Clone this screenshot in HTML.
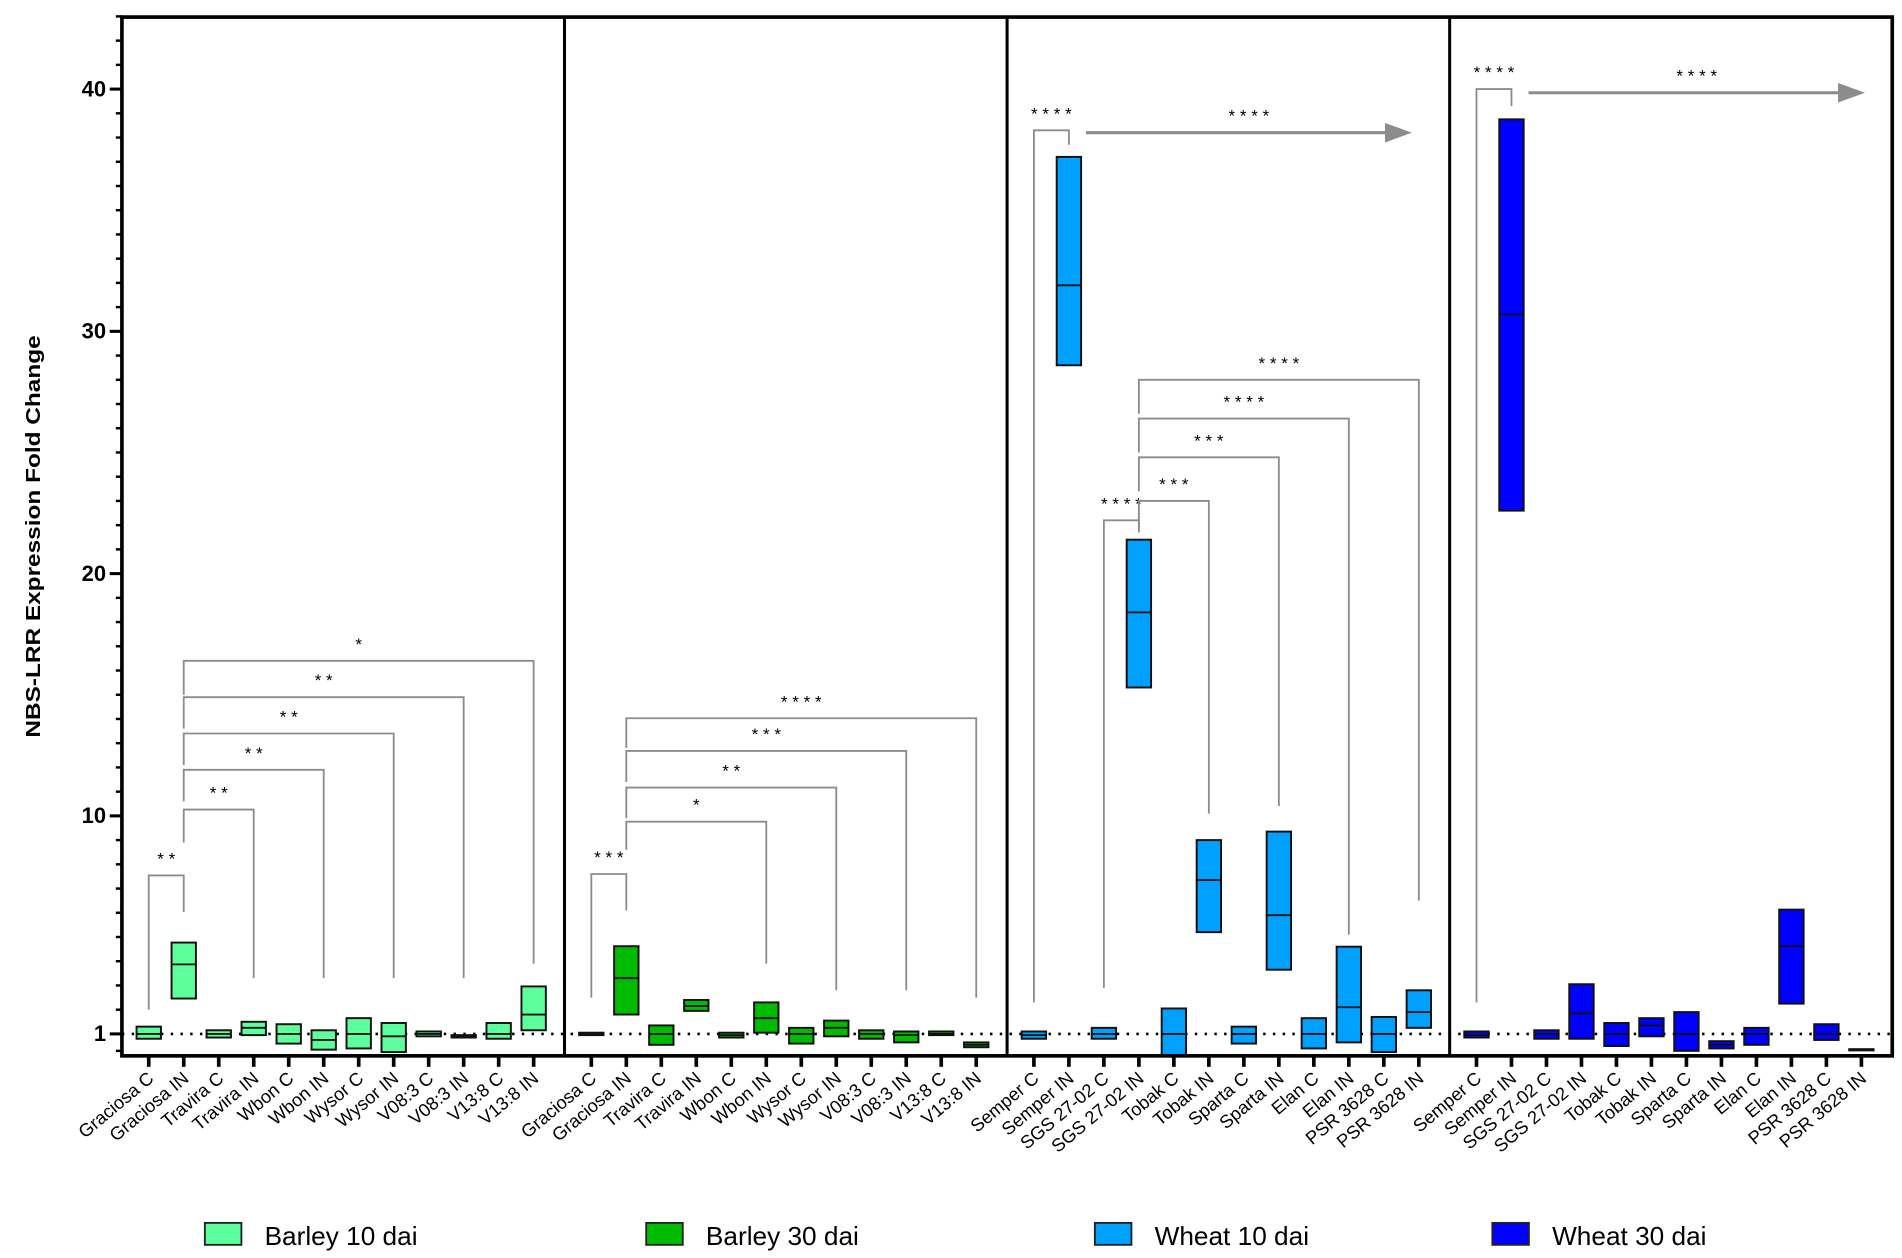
<!DOCTYPE html>
<html><head><meta charset="utf-8"><style>
html,body{margin:0;padding:0;background:#fff;}
svg{display:block;font-family:"Liberation Sans",sans-serif;}
</style></head><body>
<svg id="chart" width="1902" height="1258" viewBox="0 0 1560 1031.8" xmlns="http://www.w3.org/2000/svg"></svg>
<script>
const categories = ["Graciosa C","Graciosa IN","Travira C","Travira IN","Wbon C","Wbon IN","Wysor C","Wysor IN","V08:3 C","V08:3 IN","V13:8 C","V13:8 IN",
"Graciosa C","Graciosa IN","Travira C","Travira IN","Wbon C","Wbon IN","Wysor C","Wysor IN","V08:3 C","V08:3 IN","V13:8 C","V13:8 IN",
"Semper C","Semper IN","SGS 27-02 C","SGS 27-02 IN","Tobak C","Tobak IN","Sparta C","Sparta IN","Elan C","Elan IN","PSR 3628 C","PSR 3628 IN",
"Semper C","Semper IN","SGS 27-02 C","SGS 27-02 IN","Tobak C","Tobak IN","Sparta C","Sparta IN","Elan C","Elan IN","PSR 3628 C","PSR 3628 IN"];
const seriesNames = ["Barley 10 dai","Barley 30 dai","Wheat 10 dai","Wheat 30 dai"];
const seriesColors = ["#5cff9c","#00bb00","#00a0ff","#0000ff"];
const minVals = [0.8,2.46,0.85,0.95,0.6,0.35,0.4,0.25,0.9,0.85,0.8,1.15,
0.95,1.8,0.55,1.95,0.85,1.05,0.6,0.9,0.8,0.65,0.95,0.45,
0.8,28.6,0.8,15.3,0.1,5.2,0.6,3.65,0.4,0.65,0.25,1.25,
0.85,22.6,0.8,0.8,0.5,0.9,0.3,0.4,0.55,2.25,0.75,0.33];
const maxVals = [1.3,4.77,1.15,1.5,1.4,1.15,1.65,1.45,1.1,0.95,1.45,2.96,
1.05,4.62,1.35,2.4,1.05,2.3,1.25,1.55,1.15,1.1,1.1,0.65,
1.1,37.2,1.25,21.4,2.05,9.0,1.3,9.35,1.65,4.6,1.7,2.8,
1.1,38.75,1.15,3.05,1.45,1.65,1.9,0.7,1.25,6.13,1.4,0.37];
const medVals = [1.0,3.87,1.0,1.25,1.0,0.75,1.0,0.9,1.0,0.9,1.0,1.8,
1.0,3.3,1.0,2.15,0.95,1.65,1.0,1.25,1.0,0.95,1.0,0.55,
0.95,31.9,1.0,18.4,1.0,7.35,1.0,5.9,1.0,2.1,1.0,1.9,
0.95,30.7,1.0,1.85,1.0,1.35,1.0,0.55,1.0,4.62,1.0,0.35];
const yTicks = [1,10,20,30,40];
const brFrom = [0,1,1,1,1,1, 12,13,13,13,13, 24,26,27,27,27,27, 36];
const brTo   = [1,3,5,7,9,11, 13,17,19,21,23, 25,27,29,31,33,35, 37];
const brTop  = [7.54,10.26,11.9,13.4,14.9,16.4, 7.6,9.76,11.17,12.68,14.03, 38.3,22.2,23.0,24.8,26.4,28.0, 40.0];
const brLeft = [2.0,8.9,10.6,12.1,13.6,15.0, 2.5,8.6,9.9,11.4,12.8, 2.3,2.9,21.7,23.4,25.0,26.6, 2.3];
const brRight= [6.03,3.3,3.3,3.3,3.3,3.9, 6.1,3.9,2.8,2.8,2.5, 37.7,21.8,10.1,10.4,5.1,6.5, 39.3];
const brLabel= ["* *","* *","* *","* *","* *","*", "* * *","*","* *","* * *","* * * *", "* * * *","* * * *","* * *","* * *","* * * *","* * * *", "* * * *"];
const arrowFrom=[25,37], arrowTo=[34.8,47.1], arrowVal=[38.2,39.85];

const NS="http://www.w3.org/2000/svg";
const svg=document.getElementById('chart');
function el(t,a,p){const e=document.createElementNS(NS,t);for(const k in a)e.setAttribute(k,a[k]);(p||svg).appendChild(e);return e;}
const y=v=>848-(v-1)*19.87;
const x=i=>122+28.7*(i%12)+363*Math.floor(i/12);
const xf=f=>{const p=Math.floor(f/12);return 122+28.7*(f-12*p)+363*p;};
const L=100,T=14,R=1552,B=866;

const gBr=el('g',{});


for(let k=0;k<brFrom.length;k++){
  const x1=x(brFrom[k]),x2=x(brTo[k]),yt=y(brTop[k]);
  const p=el('path',{d:`M${x1} ${y(brLeft[k])}V${yt}H${x2}V${y(brRight[k])}`,fill:'none',stroke:'#8c8c8c','stroke-width':1.5},gBr);
  
  
  const t=el('text',{x:(x1+x2)/2,y:yt-9,'text-anchor':'middle','font-size':14,fill:'#000'},gBr);
  t.textContent=brLabel[k];
  
  
}
for(let k=0;k<arrowFrom.length;k++){
  const x1=xf(arrowFrom[k])+14,x2=xf(arrowTo[k]),yy=y(arrowVal[k]);
  const a=el('path',{d:`M${x1} ${yy}H${x2-20}`,stroke:'#8c8c8c','stroke-width':2.5,fill:'none'});
  
  
  el('polygon',{points:`${x2-22},${yy-8} ${x2},${yy} ${x2-22},${yy+8}`,fill:'#8c8c8c'});
  const t=el('text',{x:(x1+x2)/2,y:yy-9,'text-anchor':'middle','font-size':14});
  t.textContent="* * * *";
  
  
}

const dl=el('line',{x1:L,x2:R,y1:y(1),y2:y(1),stroke:'#000','stroke-width':2.2,'stroke-dasharray':'2 6'});



for(let i=0;i<categories.length;i++){
  const g=el('g',{});
  
  
  const c=seriesColors[Math.floor(i/12)];
  const yt=y(maxVals[i]),yb=y(minVals[i]);
  el('rect',{x:x(i)-10,y:yt,width:20,height:Math.max(yb-yt,1),fill:c,stroke:'#111','stroke-width':1.6},g);
  el('line',{x1:x(i)-10,x2:x(i)+10,y1:y(medVals[i]),y2:y(medVals[i]),stroke:'#111','stroke-width':1.5},g);
}

const fr=el('rect',{x:L,y:T,width:R-L,height:B-T,fill:'none',stroke:'#000','stroke-width':3});


[463,826,1189].forEach(d=>{const l=el('line',{x1:d,x2:d,y1:T,y2:B,stroke:'#000','stroke-width':2.5});

});

for(let v=1;v<=43;v++){el('line',{x1:L-5,x2:L,y1:y(v),y2:y(v),stroke:'#000','stroke-width':2});}
el('line',{x1:L-5,x2:L,y1:y(0.3),y2:y(0.3),stroke:'#000','stroke-width':2});
yTicks.forEach(v=>{
  el('line',{x1:L-10,x2:L,y1:y(v),y2:y(v),stroke:'#000','stroke-width':2.5});
  const t=el('text',{x:L-13,y:y(v)+6,'text-anchor':'end','font-size':18,'font-weight':'bold'});
  t.textContent=v;
  
  
});
const yt=el('text',{transform:'translate(33,440) rotate(-90)','text-anchor':'middle','font-size':17,'font-weight':'bold',textLength:330,lengthAdjust:'spacingAndGlyphs'});
yt.textContent='NBS-LRR Expression Fold Change';



for(let i=0;i<categories.length;i++){
  el('line',{x1:x(i),x2:x(i),y1:B,y2:B+9,stroke:'#000','stroke-width':3});
  const t=el('text',{transform:`translate(${x(i)+5},${B+20}) rotate(-40)`,'text-anchor':'end','font-size':15});
  t.textContent=categories[i];
  
  
}

const lx=[168,530,898,1224];
for(let k=0;k<4;k++){
  const g=el('g',{});
  
  
  el('rect',{x:lx[k],y:1003,width:30,height:18,fill:seriesColors[k],stroke:'#222','stroke-width':1.5},g);
  const t=el('text',{x:lx[k]+49,y:1021,'font-size':21.5},g);
  t.textContent=seriesNames[k];
}
</script>
</body></html>
